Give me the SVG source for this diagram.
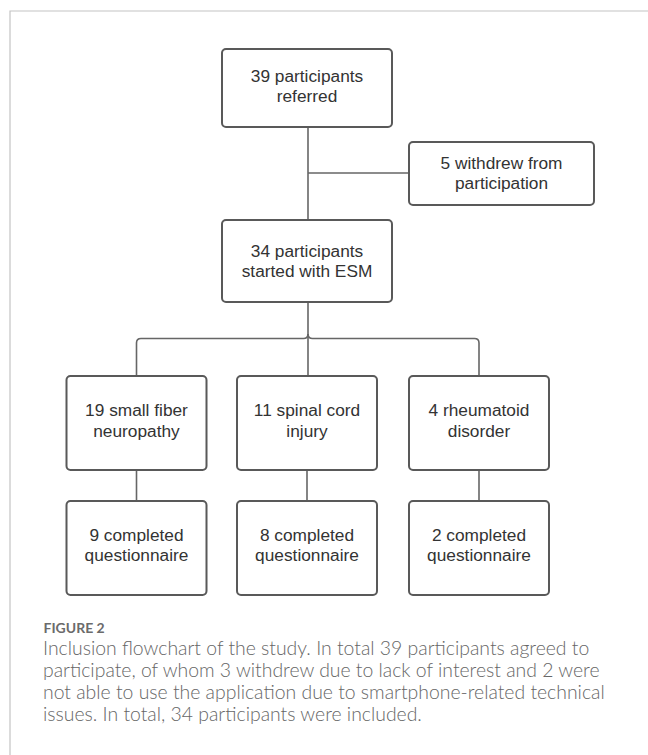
<svg xmlns="http://www.w3.org/2000/svg" width="648" height="755" viewBox="0 0 648 755">
<style>
.box{fill:#fff;stroke:#595959;stroke-width:2}
.lbl{font-family:"Liberation Sans",Arial,sans-serif;font-size:17.3px;fill:#333;text-anchor:middle}
.con{fill:none;stroke:#666;stroke-width:1.6}
.fig{font-family:Lato,"Open Sans",sans-serif;font-size:14px;font-weight:700;fill:#6b6b6b}
.cap{font-family:Lato,"Open Sans",sans-serif;font-size:19.4px;font-weight:300;fill:#666}
</style>
<rect width="648" height="755" fill="#fff"/>
<path d="M10,755 V11 H648" fill="none" stroke="#c4c4c4" stroke-width="1.2"/>
<g id="connectors">
<path class="con" d="M308,127 V220"/>
<path class="con" d="M308,173 H409"/>
<path class="con" d="M308,302 V376"/>
<path class="con" d="M308,334 Q308,338.5 303.5,338.5 H141 Q136.5,338.5 136.5,343 V376"/>
<path class="con" d="M308,334 Q308,338.5 312.5,338.5 H474.5 Q479,338.5 479,343 V376"/>
<path class="con" d="M136.5,470 V501"/>
<path class="con" d="M307,470 V501"/>
<path class="con" d="M479,470 V501"/>
</g>
<g id="n1"><rect class="box" x="222" y="49" width="170" height="78" rx="4"/>
<text class="lbl" x="307" y="82">39 participants</text><text class="lbl" x="307" y="102">referred</text></g>
<g id="n2"><rect class="box" x="409" y="142" width="185" height="63" rx="4"/>
<text class="lbl" x="501.5" y="169">5 withdrew from</text><text class="lbl" x="501.5" y="189">participation</text></g>
<g id="n3"><rect class="box" x="222" y="220" width="170" height="82" rx="4"/>
<text class="lbl" x="307" y="256.5">34 participants</text><text class="lbl" x="307" y="276.5">started with ESM</text></g>
<g id="n4"><rect class="box" x="66.5" y="376" width="140" height="94" rx="4"/>
<text class="lbl" x="136.5" y="416">19 small fiber</text><text class="lbl" x="136.5" y="436.5">neuropathy</text></g>
<g id="n5"><rect class="box" x="237" y="376" width="140" height="94" rx="4"/>
<text class="lbl" x="307" y="416">11 spinal cord</text><text class="lbl" x="307" y="436.5">injury</text></g>
<g id="n6"><rect class="box" x="409" y="376" width="140" height="94" rx="4"/>
<text class="lbl" x="479" y="416">4 rheumatoid</text><text class="lbl" x="479" y="436.5">disorder</text></g>
<g id="n7"><rect class="box" x="66.5" y="501" width="140" height="94" rx="4"/>
<text class="lbl" x="136.5" y="541">9 completed</text><text class="lbl" x="136.5" y="561">questionnaire</text></g>
<g id="n8"><rect class="box" x="237" y="501" width="140" height="94" rx="4"/>
<text class="lbl" x="307" y="541">8 completed</text><text class="lbl" x="307" y="561">questionnaire</text></g>
<g id="n9"><rect class="box" x="409" y="501" width="140" height="94" rx="4"/>
<text class="lbl" x="479" y="541">2 completed</text><text class="lbl" x="479" y="561">questionnaire</text></g>
<g id="caption">
<text class="fig" x="43.5" y="632.5">FIGURE 2</text>
<text class="cap" x="43" y="654.5">Inclusion flowchart of the study. In total 39 participants agreed to</text>
<text class="cap" x="43" y="676.7">participate, of whom 3 withdrew due to lack of interest and 2 were</text>
<text class="cap" x="43" y="698.5">not able to use the application due to smartphone-related technical</text>
<text class="cap" x="43" y="721">issues. In total, 34 participants were included.</text>
</g>
</svg>
